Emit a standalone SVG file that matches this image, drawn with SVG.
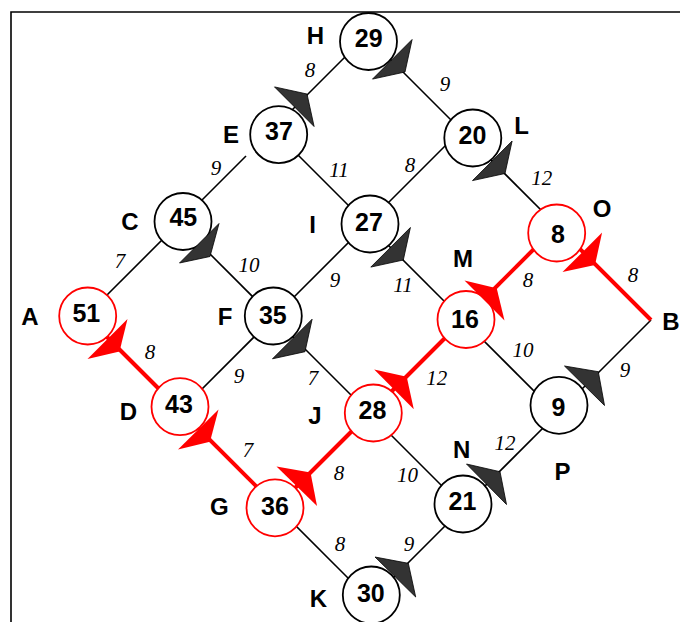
<svg xmlns="http://www.w3.org/2000/svg" width="680" height="622" viewBox="0 0 680 622">
<style>
.frame{fill:none;stroke:#000;stroke-width:1.6}
.e{stroke:#000;stroke-width:1.6;fill:none}
.r{stroke:#f00;stroke-width:4;fill:none}
.n{fill:#fff;stroke:#000;stroke-width:1.8}
.nr{fill:#fff;stroke:#f00;stroke-width:1.8}
.ad{fill:#333;stroke:#000;stroke-width:0.8}
.ar{fill:#f00}
.num{font-family:"Liberation Sans",Arial,sans-serif;font-weight:bold;font-size:25px;text-anchor:middle}
.lab{font-family:"Liberation Sans",Arial,sans-serif;font-weight:bold;font-size:24px;text-anchor:middle}
.w{font-family:"Liberation Serif","Times New Roman",serif;font-style:italic;font-size:21px;text-anchor:middle}
</style>
<rect width="680" height="622" fill="#fff"/>
<path class="frame" d="M11 623 V12 H681"/>
<g id="connectors">
<line class="e" x1="366.5" y1="35.5" x2="272.5" y2="129.5"/>
<line class="e" x1="366.5" y1="35.5" x2="461" y2="130"/>
<line class="e" x1="246" y1="156" x2="179" y2="223"/>
<line class="e" x1="272.5" y1="129.5" x2="367" y2="224"/>
<line class="e" x1="461" y1="130" x2="367" y2="224"/>
<line class="e" x1="461" y1="130" x2="557" y2="226"/>
<line class="e" x1="179" y1="223" x2="86" y2="316"/>
<line class="e" x1="179" y1="223" x2="273.5" y2="317.5"/>
<line class="e" x1="367" y1="224" x2="273.5" y2="317.5"/>
<line class="e" x1="367" y1="224" x2="463" y2="320"/>
<line class="e" x1="273.5" y1="317.5" x2="180.5" y2="410.5"/>
<line class="e" x1="273.5" y1="317.5" x2="369.5" y2="413.5"/>
<line class="e" x1="463" y1="320" x2="557" y2="414"/>
<line class="e" x1="651" y1="320" x2="557" y2="414"/>
<line class="e" x1="369.5" y1="413.5" x2="463.5" y2="507.5"/>
<line class="e" x1="557" y1="414" x2="463.5" y2="507.5"/>
<line class="e" x1="276.5" y1="506.5" x2="370.5" y2="600.5"/>
<line class="e" x1="463.5" y1="507.5" x2="370.5" y2="600.5"/>
<line class="r" x1="557" y1="226" x2="463" y2="320"/>
<line class="r" x1="557" y1="226" x2="651" y2="320"/>
<line class="r" x1="86" y1="316" x2="180.5" y2="410.5"/>
<line class="r" x1="463" y1="320" x2="369.5" y2="413.5"/>
<line class="r" x1="180.5" y1="410.5" x2="276.5" y2="506.5"/>
<line class="r" x1="369.5" y1="413.5" x2="276.5" y2="506.5"/>
</g>
<g id="H"><circle class="n" cx="368.5" cy="41.5" r="28.5"/><text class="num" x="368.7" y="46.8">29</text><text class="lab" x="315.5" y="44">H</text></g>
<g id="E"><circle class="n" cx="278.7" cy="134.6" r="28.5"/><text class="num" x="279" y="139.8">37</text><text class="lab" x="231" y="143">E</text></g>
<g id="L"><circle class="n" cx="472.8" cy="138" r="28.5"/><text class="num" x="472.5" y="143.5">20</text><text class="lab" x="521.7" y="134">L</text></g>
<g id="C"><circle class="n" cx="183" cy="221.5" r="28.5"/><text class="num" x="183.3" y="225.7">45</text><text class="lab" x="130" y="230">C</text></g>
<g id="I"><circle class="n" cx="370" cy="224" r="28.5"/><text class="num" x="369" y="230.7">27</text><text class="lab" x="312.5" y="233.3">I</text></g>
<g id="O"><circle class="nr" cx="556.7" cy="233" r="28.5"/><text class="num" x="558" y="243">8</text><text class="lab" x="602" y="216.5">O</text></g>
<g id="A"><circle class="nr" cx="87.7" cy="316" r="28.5"/><text class="num" x="86.3" y="322.3">51</text><text class="lab" x="30" y="325">A</text></g>
<g id="F"><circle class="n" cx="273.3" cy="316" r="28.5"/><text class="num" x="272.8" y="324">35</text><text class="lab" x="225" y="325">F</text></g>
<g id="M"><circle class="nr" cx="466" cy="319.5" r="28.5"/><text class="num" x="465" y="328">16</text><text class="lab" x="463" y="267">M</text></g>
<g id="B"><text class="lab" x="671" y="330">B</text></g>
<g id="D"><circle class="nr" cx="180" cy="406.7" r="28.5"/><text class="num" x="179" y="412.5">43</text><text class="lab" x="128.3" y="420">D</text></g>
<g id="J"><circle class="nr" cx="373.3" cy="413" r="28.5"/><text class="num" x="372.5" y="418.5">28</text><text class="lab" x="315" y="424">J</text></g>
<g id="P"><circle class="n" cx="559" cy="405.3" r="28.5"/><text class="num" x="558.5" y="416">9</text><text class="lab" x="562.5" y="480">P</text></g>
<g id="G"><circle class="nr" cx="275" cy="507.8" r="28.5"/><text class="num" x="275" y="514.5">36</text><text class="lab" x="219.3" y="515">G</text></g>
<g id="N"><circle class="n" cx="463" cy="504" r="28.5"/><text class="num" x="462.5" y="509.8">21</text><text class="lab" x="461.7" y="458">N</text></g>
<g id="K"><circle class="n" cx="371.3" cy="595" r="28.5"/><text class="num" x="370.8" y="602.3">30</text><text class="lab" x="318.3" y="606.7">K</text></g>
<g id="arrows">
<polygon class="ad" points="307,94 314.1,126.5 274.5,86.9"/>
<polygon class="ad" points="405,72 412.1,39.5 372.5,79.1"/>
<polygon class="ad" points="505,173.5 512.1,141 472.5,180.6"/>
<polygon class="ad" points="210,256.5 219,223.5 179.5,263"/>
<polygon class="ad" points="403.3,260 410.4,227.5 370.8,267.1"/>
<polygon class="ar" points="496.7,288.3 504.5,320.5 464.5,280.5"/>
<polygon class="ar" points="595,265 602.1,232.5 562.5,272.1"/>
<polygon class="ar" points="119.5,351.5 127.5,319 87.5,359"/>
<polygon class="ad" points="305,351.7 312.1,319.2 272.5,358.8"/>
<polygon class="ar" points="406.7,376.7 413.8,409.2 374.2,369.6"/>
<polygon class="ad" points="598.3,371.7 604.5,405.5 564.5,366"/>
<polygon class="ar" points="210,441.7 218.5,409.5 178,449.5"/>
<polygon class="ar" points="310.5,472.5 317,506 276.5,466.5"/>
<polygon class="ad" points="500,471.7 506.5,504.5 466.5,464"/>
<polygon class="ad" points="408.3,563.3 415.7,597 375,557"/>
</g>
<g id="weights">
<text class="w" x="310" y="77">8</text>
<text class="w" x="445" y="91">9</text>
<text class="w" x="216" y="175">9</text>
<text class="w" x="339" y="177">11</text>
<text class="w" x="410" y="171.5">8</text>
<text class="w" x="541.7" y="185">12</text>
<text class="w" x="120" y="268">7</text>
<text class="w" x="249" y="271.5">10</text>
<text class="w" x="335" y="287">9</text>
<text class="w" x="403" y="291.5">11</text>
<text class="w" x="528" y="287">8</text>
<text class="w" x="633" y="281.5">8</text>
<text class="w" x="150" y="359">8</text>
<text class="w" x="239" y="383">9</text>
<text class="w" x="313" y="385">7</text>
<text class="w" x="436.7" y="385">12</text>
<text class="w" x="523" y="356.5">10</text>
<text class="w" x="625" y="376.5">9</text>
<text class="w" x="248" y="456.5">7</text>
<text class="w" x="339" y="479.5">8</text>
<text class="w" x="407.5" y="482">10</text>
<text class="w" x="505" y="450">12</text>
<text class="w" x="340" y="550.5">8</text>
<text class="w" x="409" y="550.5">9</text>
</g>
</svg>
